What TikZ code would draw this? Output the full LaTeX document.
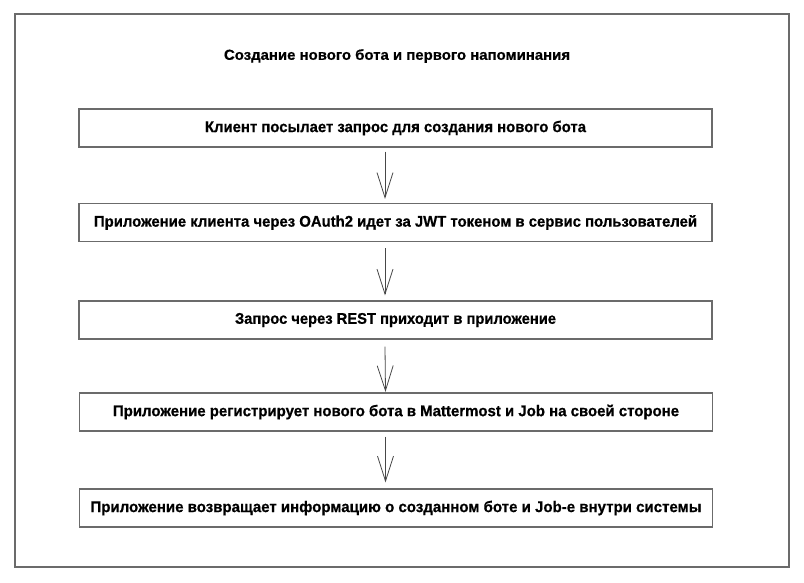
\documentclass[tikz,border=0pt]{standalone}
\usepackage{fontspec}
\setmainfont[BoldFeatures={FakeBold=0.6}]{Liberation Sans}
\usepackage{graphicx}
\usetikzlibrary{arrows.meta}
\newcommand{\fitw}[2]{\resizebox{#1}{\height}{#2}}
\tikzset{
  stepbox/.style={draw=black!58, line width=1.2pt, fill=white, minimum width=633pt, minimum height=38pt, inner sep=0pt, text=black, font=\bfseries\fontsize{15.5}{18}\selectfont},
  frame/.style={draw=black!58, line width=1.2pt},
  flow/.style={draw=black!72, line width=0.8pt, -{Straight Barb[length=25pt,width=16pt,line width=0.8pt]}},
  titletext/.style={text=black, inner sep=0pt, font=\bfseries\fontsize{14.5}{17}\selectfont}
}
\begin{document}
\begin{tikzpicture}[x=1pt,y=1pt]
\useasboundingbox (0,0) rectangle (804,-582);
\fill[white] (0,0) rectangle (804,-582);
\draw[frame] (15,-14) rectangle (789,-567);
\node[titletext] (title) at (397,-56) {\fitw{346pt}{Создание нового бота и первого напоминания}};
\node[stepbox] (b1) at (395.5,-128) {\fitw{381pt}{Клиент посылает запрос для создания нового бота}};
\node[stepbox] (b2) at (395.5,-222.5) {\fitw{603pt}{Приложение клиента через OAuth2 идет за JWT токеном в сервис пользователей}};
\node[stepbox] (b3) at (395.5,-320) {\fitw{321pt}{Запрос через REST приходит в приложение}};
\node[stepbox] (b4) at (396,-412) {\fitw{566pt}{Приложение регистрирует нового бота в Mattermost и Job на своей стороне}};
\node[stepbox] (b5) at (396,-508) {\fitw{611pt}{Приложение возвращает информацию о созданном боте и Job-е внутри системы}};
\draw[flow] ([xshift=-10.5pt,yshift=-4pt]b1.south) -- ([xshift=-10.5pt,yshift=4pt]b2.north);
\draw[flow] ([xshift=-10.5pt,yshift=-6pt]b2.south) -- ([xshift=-10.5pt,yshift=5pt]b3.north);
\draw[flow] ([xshift=-10.5pt,yshift=-7pt]b3.south) -- ([xshift=-10.5pt,yshift=0.5pt]b4.north);
\draw[flow] ([xshift=-10.5pt,yshift=-5pt]b4.south) -- ([xshift=-10.5pt,yshift=6pt]b5.north);
\end{tikzpicture}
\end{document}
